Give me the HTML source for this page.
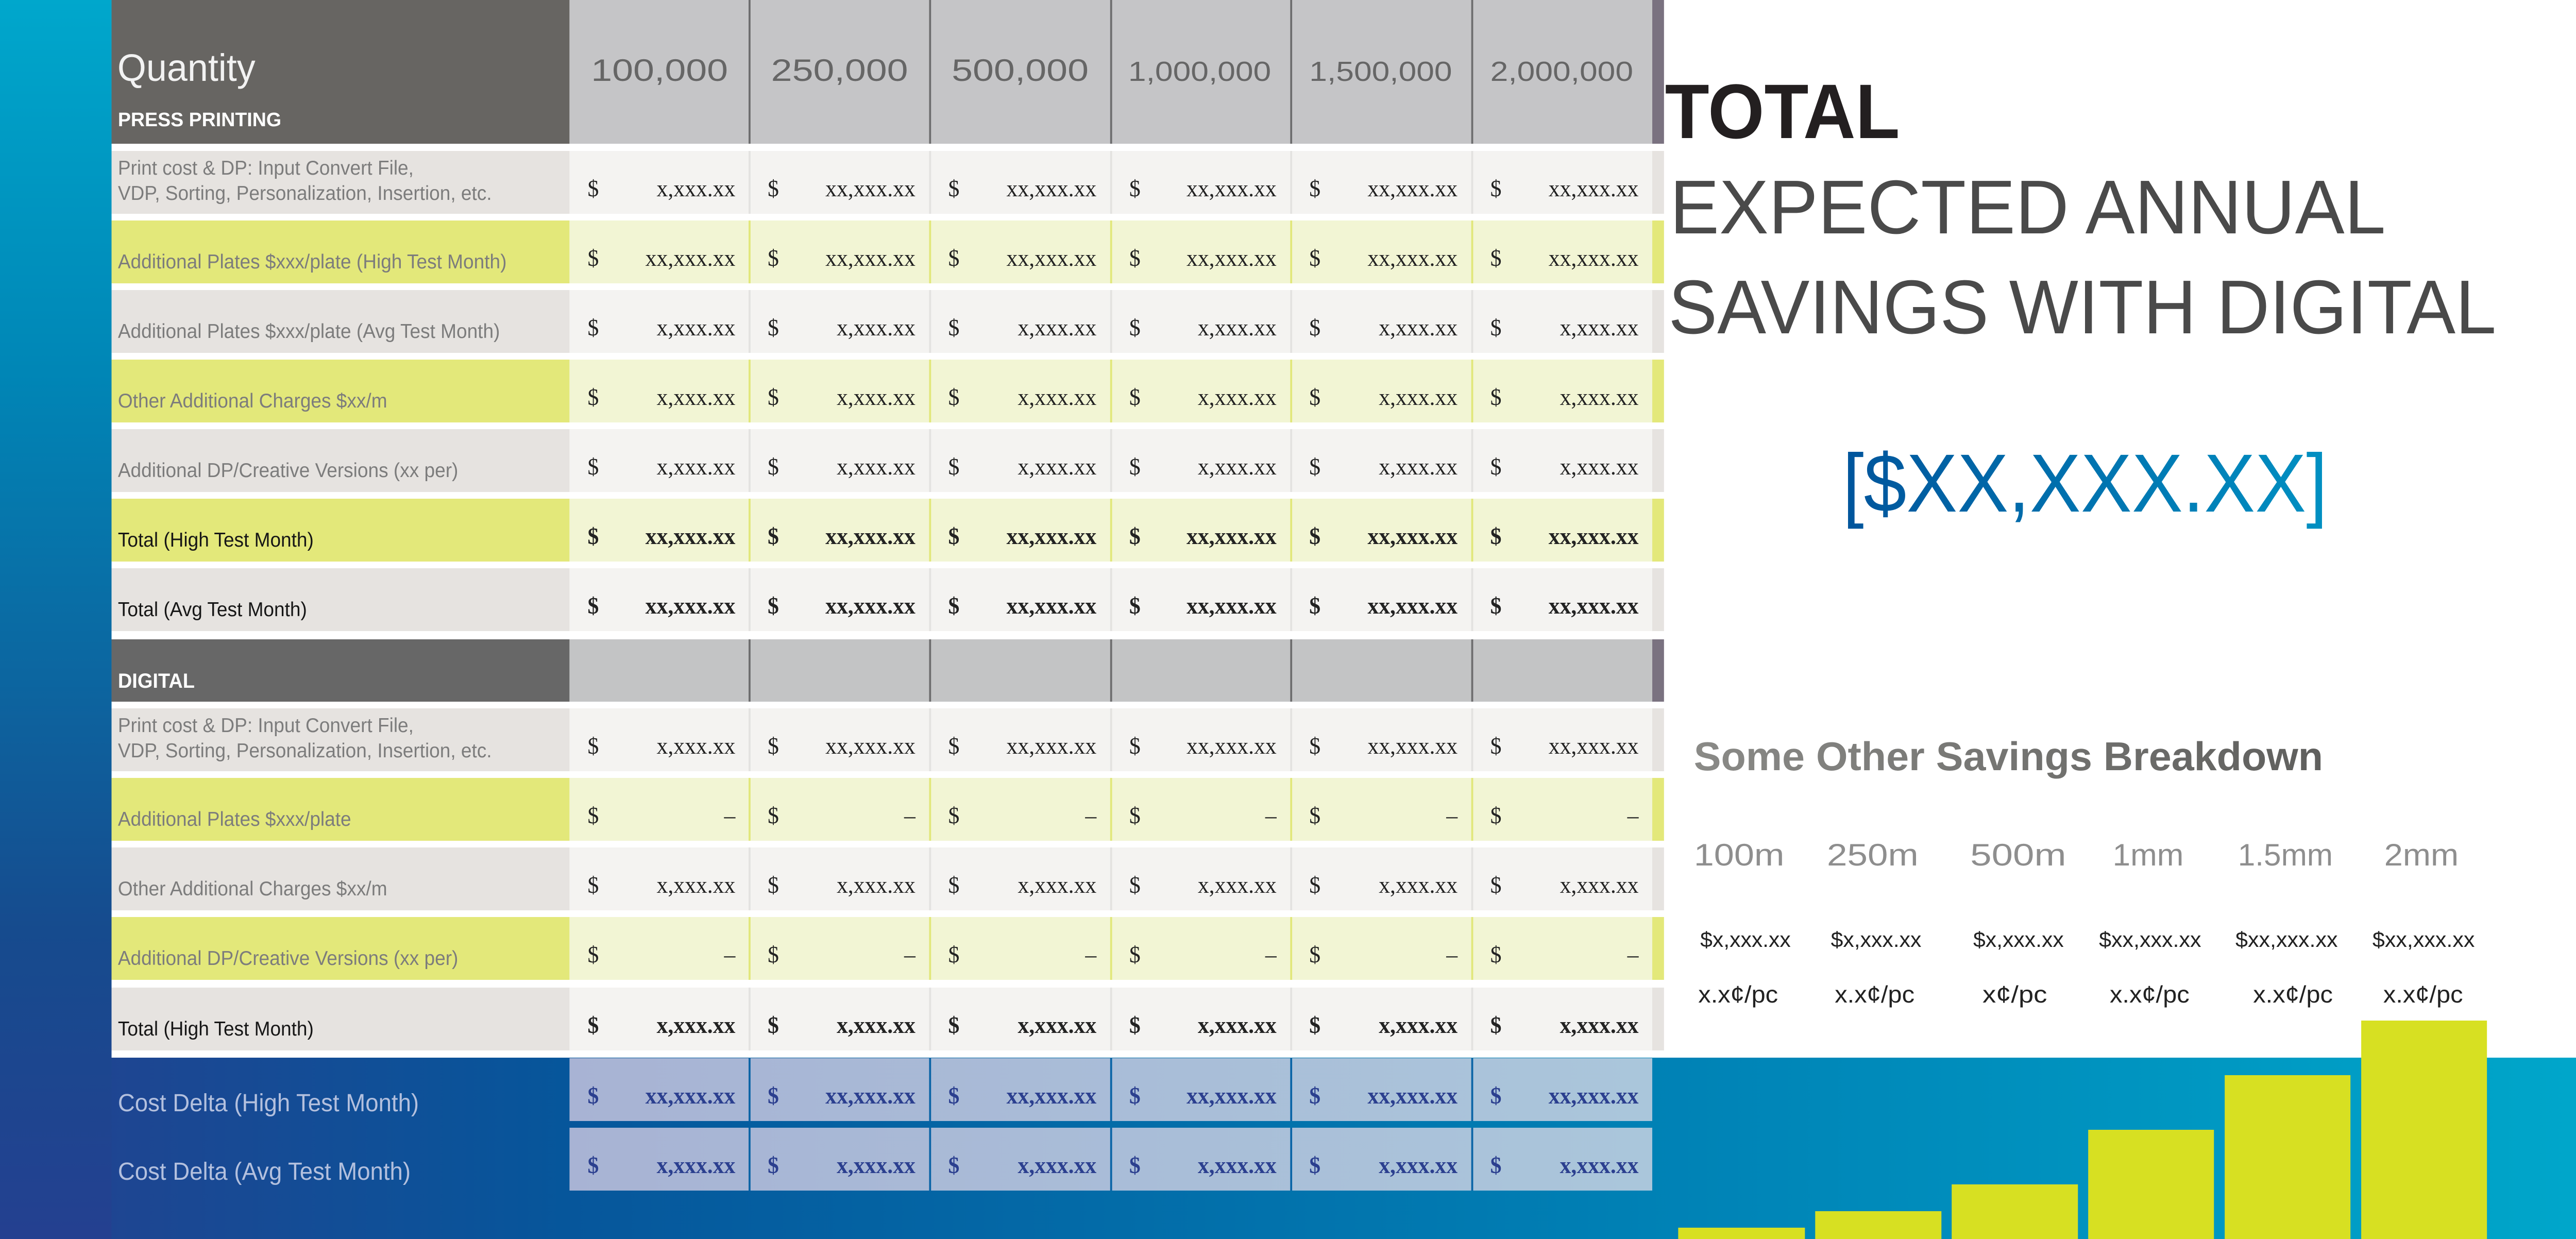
<!DOCTYPE html>
<html><head><meta charset="utf-8"><style>html,body{margin:0;padding:0;width:100%;height:100%;overflow:hidden}svg{display:block;width:100vw;height:100vh}</style></head>
<body>
<svg xmlns="http://www.w3.org/2000/svg" viewBox="0 0 5265 2405" preserveAspectRatio="none">
<defs>
<linearGradient id="bgh" x1="0" y1="0" x2="1" y2="0">
<stop offset="0" stop-color="#24418f"/><stop offset="0.22" stop-color="#06569b"/><stop offset="0.64" stop-color="#0081b5"/><stop offset="1" stop-color="#00a6ca"/></linearGradient>
<linearGradient id="bgv" x1="0" y1="0" x2="0" y2="1">
<stop offset="0" stop-color="#00a7cc"/><stop offset="0.3" stop-color="#0086b6"/><stop offset="0.75" stop-color="#164b8e"/><stop offset="1" stop-color="#244090"/></linearGradient>
<linearGradient id="blue" x1="0" y1="0" x2="1" y2="0"><stop offset="0" stop-color="#00559c"/><stop offset="1" stop-color="#0090c2"/></linearGradient>
<linearGradient id="gry" x1="0" y1="0" x2="1" y2="0"><stop offset="0" stop-color="#8a8a87"/><stop offset="1" stop-color="#5f5f5d"/></linearGradient>
<linearGradient id="dlt" x1="0" y1="0" x2="1" y2="0"><stop offset="0" stop-color="#a8b3d4"/><stop offset="1" stop-color="#aac6db"/></linearGradient>
</defs>
<rect width="5265" height="2405" fill="url(#bgh)"/>
<rect width="228" height="2405" fill="url(#bgv)"/>
<rect x="228" y="0" width="5037" height="2053" fill="#fff"/>

<g font-family="Liberation Sans, sans-serif">
<rect x="228" y="0" width="936" height="279" fill="#676562"/>
<rect x="1164" y="0" width="2213" height="279" fill="#c5c5c7"/>
<rect x="3377" y="0" width="24" height="279" fill="#7a7280"/>
<g fill="#6d6d6e"><rect x="1530" y="0" width="4" height="279"/><rect x="1899" y="0" width="4" height="279"/><rect x="2269" y="0" width="4" height="279"/><rect x="2637" y="0" width="4" height="279"/><rect x="3007" y="0" width="4" height="279"/></g>
<text x="240" y="157" font-size="74" fill="#f2f2f2" textLength="282" lengthAdjust="spacingAndGlyphs">Quantity</text>
<text x="241" y="245" font-size="38" font-weight="bold" fill="#fff" textLength="334" lengthAdjust="spacingAndGlyphs">PRESS PRINTING</text>
<g font-size="60" fill="#666" text-anchor="middle">
<text x="1348" y="157" textLength="280" lengthAdjust="spacingAndGlyphs">100,000</text>
<text x="1716" y="157" textLength="280" lengthAdjust="spacingAndGlyphs">250,000</text>
<text x="2085" y="157" textLength="280" lengthAdjust="spacingAndGlyphs">500,000</text>
<text x="2452" y="157" font-size="54" textLength="292" lengthAdjust="spacingAndGlyphs">1,000,000</text>
<text x="2822" y="157" font-size="54" textLength="292" lengthAdjust="spacingAndGlyphs">1,500,000</text>
<text x="3192" y="157" font-size="54" textLength="292" lengthAdjust="spacingAndGlyphs">2,000,000</text>
</g>
</g>

<g font-family="Liberation Sans, sans-serif">
<g>
<rect x="228" y="293" width="936" height="122" fill="#e6e3e0"/><rect x="1164" y="293" width="2213" height="122" fill="#f4f3f1"/><rect x="3377" y="293" width="24" height="122" fill="#e6e3e0"/>
<rect x="228" y="428" width="936" height="122" fill="#e3e87a"/><rect x="1164" y="428" width="2213" height="122" fill="#f2f5d4"/><rect x="3377" y="428" width="24" height="122" fill="#e3e87a"/>
<rect x="228" y="563" width="936" height="122" fill="#e6e3e0"/><rect x="1164" y="563" width="2213" height="122" fill="#f4f3f1"/><rect x="3377" y="563" width="24" height="122" fill="#e6e3e0"/>
<rect x="228" y="698" width="936" height="122" fill="#e3e87a"/><rect x="1164" y="698" width="2213" height="122" fill="#f2f5d4"/><rect x="3377" y="698" width="24" height="122" fill="#e3e87a"/>
<rect x="228" y="833" width="936" height="122" fill="#e6e3e0"/><rect x="1164" y="833" width="2213" height="122" fill="#f4f3f1"/><rect x="3377" y="833" width="24" height="122" fill="#e6e3e0"/>
<rect x="228" y="968" width="936" height="122" fill="#e3e87a"/><rect x="1164" y="968" width="2213" height="122" fill="#f2f5d4"/><rect x="3377" y="968" width="24" height="122" fill="#e3e87a"/>
<rect x="228" y="1103" width="936" height="122" fill="#e6e3e0"/><rect x="1164" y="1103" width="2213" height="122" fill="#f4f3f1"/><rect x="3377" y="1103" width="24" height="122" fill="#e6e3e0"/>
<rect x="228" y="1241" width="936" height="121" fill="#676767"/><rect x="1164" y="1241" width="2213" height="121" fill="#c3c4c5"/><rect x="3377" y="1241" width="24" height="121" fill="#7a7280"/>
<rect x="228" y="1375" width="936" height="122" fill="#e6e3e0"/><rect x="1164" y="1375" width="2213" height="122" fill="#f4f3f1"/><rect x="3377" y="1375" width="24" height="122" fill="#e6e3e0"/>
<rect x="228" y="1510" width="936" height="122" fill="#e3e87a"/><rect x="1164" y="1510" width="2213" height="122" fill="#f2f5d4"/><rect x="3377" y="1510" width="24" height="122" fill="#e3e87a"/>
<rect x="228" y="1645" width="936" height="122" fill="#e6e3e0"/><rect x="1164" y="1645" width="2213" height="122" fill="#f4f3f1"/><rect x="3377" y="1645" width="24" height="122" fill="#e6e3e0"/>
<rect x="228" y="1780" width="936" height="122" fill="#e3e87a"/><rect x="1164" y="1780" width="2213" height="122" fill="#f2f5d4"/><rect x="3377" y="1780" width="24" height="122" fill="#e3e87a"/>
<rect x="228" y="1917" width="936" height="122" fill="#e6e3e0"/><rect x="1164" y="1917" width="2213" height="122" fill="#f4f3f1"/><rect x="3377" y="1917" width="24" height="122" fill="#e6e3e0"/>
<rect x="1164" y="2054" width="2213" height="122" fill="url(#dlt)"/>
<rect x="1164" y="2189" width="2213" height="122" fill="url(#dlt)"/>
</g>
<g>
<g fill="#e3e2e0">
<rect x="1530" y="293" width="4" height="122"/><rect x="1899" y="293" width="4" height="122"/><rect x="2269" y="293" width="4" height="122"/><rect x="2637" y="293" width="4" height="122"/><rect x="3007" y="293" width="4" height="122"/>
<rect x="1530" y="563" width="4" height="122"/><rect x="1899" y="563" width="4" height="122"/><rect x="2269" y="563" width="4" height="122"/><rect x="2637" y="563" width="4" height="122"/><rect x="3007" y="563" width="4" height="122"/>
<rect x="1530" y="833" width="4" height="122"/><rect x="1899" y="833" width="4" height="122"/><rect x="2269" y="833" width="4" height="122"/><rect x="2637" y="833" width="4" height="122"/><rect x="3007" y="833" width="4" height="122"/>
<rect x="1530" y="1103" width="4" height="122"/><rect x="1899" y="1103" width="4" height="122"/><rect x="2269" y="1103" width="4" height="122"/><rect x="2637" y="1103" width="4" height="122"/><rect x="3007" y="1103" width="4" height="122"/>
<rect x="1530" y="1375" width="4" height="122"/><rect x="1899" y="1375" width="4" height="122"/><rect x="2269" y="1375" width="4" height="122"/><rect x="2637" y="1375" width="4" height="122"/><rect x="3007" y="1375" width="4" height="122"/>
<rect x="1530" y="1645" width="4" height="122"/><rect x="1899" y="1645" width="4" height="122"/><rect x="2269" y="1645" width="4" height="122"/><rect x="2637" y="1645" width="4" height="122"/><rect x="3007" y="1645" width="4" height="122"/>
<rect x="1530" y="1917" width="4" height="122"/><rect x="1899" y="1917" width="4" height="122"/><rect x="2269" y="1917" width="4" height="122"/><rect x="2637" y="1917" width="4" height="122"/><rect x="3007" y="1917" width="4" height="122"/>
</g>
<g fill="#e1e77a">
<rect x="1530" y="428" width="4" height="122"/><rect x="1899" y="428" width="4" height="122"/><rect x="2269" y="428" width="4" height="122"/><rect x="2637" y="428" width="4" height="122"/><rect x="3007" y="428" width="4" height="122"/>
<rect x="1530" y="698" width="4" height="122"/><rect x="1899" y="698" width="4" height="122"/><rect x="2269" y="698" width="4" height="122"/><rect x="2637" y="698" width="4" height="122"/><rect x="3007" y="698" width="4" height="122"/>
<rect x="1530" y="968" width="4" height="122"/><rect x="1899" y="968" width="4" height="122"/><rect x="2269" y="968" width="4" height="122"/><rect x="2637" y="968" width="4" height="122"/><rect x="3007" y="968" width="4" height="122"/>
<rect x="1530" y="1510" width="4" height="122"/><rect x="1899" y="1510" width="4" height="122"/><rect x="2269" y="1510" width="4" height="122"/><rect x="2637" y="1510" width="4" height="122"/><rect x="3007" y="1510" width="4" height="122"/>
<rect x="1530" y="1780" width="4" height="122"/><rect x="1899" y="1780" width="4" height="122"/><rect x="2269" y="1780" width="4" height="122"/><rect x="2637" y="1780" width="4" height="122"/><rect x="3007" y="1780" width="4" height="122"/>
</g>
<g fill="#6d6d6e"><rect x="1530" y="1241" width="4" height="121"/><rect x="1899" y="1241" width="4" height="121"/><rect x="2269" y="1241" width="4" height="121"/><rect x="2637" y="1241" width="4" height="121"/><rect x="3007" y="1241" width="4" height="121"/></g>
<g fill="#0a64a6"><rect x="1530" y="2054" width="4" height="122"/><rect x="1899" y="2054" width="4" height="122"/><rect x="2269" y="2054" width="4" height="122"/><rect x="2637" y="2054" width="4" height="122"/><rect x="3007" y="2054" width="4" height="122"/>
<rect x="1530" y="2189" width="4" height="122"/><rect x="1899" y="2189" width="4" height="122"/><rect x="2269" y="2189" width="4" height="122"/><rect x="2637" y="2189" width="4" height="122"/><rect x="3007" y="2189" width="4" height="122"/></g>
</g>

<g font-size="39" fill="#7c7c7c">
<text x="241" y="339">Print cost &amp; DP: Input Convert File,</text>
<text x="241" y="388">VDP, Sorting, Personalization, Insertion, etc.</text>
<text x="241" y="521">Additional Plates $xxx/plate (High Test Month)</text>
<text x="241" y="656">Additional Plates $xxx/plate (Avg Test Month)</text>
<text x="241" y="791">Other Additional Charges $xx/m</text>
<text x="241" y="926">Additional DP/Creative Versions (xx per)</text>
<text x="241" y="1061" fill="#161616">Total (High Test Month)</text>
<text x="241" y="1196" fill="#161616">Total (Avg Test Month)</text>
<text x="241" y="1335" font-weight="bold" fill="#fff" font-size="40">DIGITAL</text>
<text x="241" y="1421">Print cost &amp; DP: Input Convert File,</text>
<text x="241" y="1470">VDP, Sorting, Personalization, Insertion, etc.</text>
<text x="241" y="1603">Additional Plates $xxx/plate</text>
<text x="241" y="1738">Other Additional Charges $xx/m</text>
<text x="241" y="1873">Additional DP/Creative Versions (xx per)</text>
<text x="241" y="2010" fill="#161616">Total (High Test Month)</text>
<text x="241" y="2157" font-size="48" fill="#b3c0de">Cost Delta (High Test Month)</text>
<text x="241" y="2290" font-size="48" fill="#b3c0de">Cost Delta (Avg Test Month)</text>
</g>
</g>

<g font-family="Liberation Serif, serif" font-size="46">
<g fill="#222">
<text x="1201" y="381">$</text><text x="1569" y="381">$</text><text x="1938" y="381">$</text><text x="2308" y="381">$</text><text x="2676" y="381">$</text><text x="3046" y="381">$</text>
<g text-anchor="end"><text x="1503" y="381">x,xxx.xx</text><text x="1871" y="381">xx,xxx.xx</text><text x="2241" y="381">xx,xxx.xx</text><text x="2609" y="381">xx,xxx.xx</text><text x="2979" y="381">xx,xxx.xx</text><text x="3349" y="381">xx,xxx.xx</text></g>
<text x="1201" y="516">$</text><text x="1569" y="516">$</text><text x="1938" y="516">$</text><text x="2308" y="516">$</text><text x="2676" y="516">$</text><text x="3046" y="516">$</text>
<g text-anchor="end"><text x="1503" y="516">xx,xxx.xx</text><text x="1871" y="516">xx,xxx.xx</text><text x="2241" y="516">xx,xxx.xx</text><text x="2609" y="516">xx,xxx.xx</text><text x="2979" y="516">xx,xxx.xx</text><text x="3349" y="516">xx,xxx.xx</text></g>
<text x="1201" y="651">$</text><text x="1569" y="651">$</text><text x="1938" y="651">$</text><text x="2308" y="651">$</text><text x="2676" y="651">$</text><text x="3046" y="651">$</text>
<g text-anchor="end"><text x="1503" y="651">x,xxx.xx</text><text x="1871" y="651">x,xxx.xx</text><text x="2241" y="651">x,xxx.xx</text><text x="2609" y="651">x,xxx.xx</text><text x="2979" y="651">x,xxx.xx</text><text x="3349" y="651">x,xxx.xx</text></g>
<text x="1201" y="786">$</text><text x="1569" y="786">$</text><text x="1938" y="786">$</text><text x="2308" y="786">$</text><text x="2676" y="786">$</text><text x="3046" y="786">$</text>
<g text-anchor="end"><text x="1503" y="786">x,xxx.xx</text><text x="1871" y="786">x,xxx.xx</text><text x="2241" y="786">x,xxx.xx</text><text x="2609" y="786">x,xxx.xx</text><text x="2979" y="786">x,xxx.xx</text><text x="3349" y="786">x,xxx.xx</text></g>
<text x="1201" y="921">$</text><text x="1569" y="921">$</text><text x="1938" y="921">$</text><text x="2308" y="921">$</text><text x="2676" y="921">$</text><text x="3046" y="921">$</text>
<g text-anchor="end"><text x="1503" y="921">x,xxx.xx</text><text x="1871" y="921">x,xxx.xx</text><text x="2241" y="921">x,xxx.xx</text><text x="2609" y="921">x,xxx.xx</text><text x="2979" y="921">x,xxx.xx</text><text x="3349" y="921">x,xxx.xx</text></g>
<g font-weight="bold">
<text x="1201" y="1056">$</text><text x="1569" y="1056">$</text><text x="1938" y="1056">$</text><text x="2308" y="1056">$</text><text x="2676" y="1056">$</text><text x="3046" y="1056">$</text>
<g text-anchor="end"><text x="1503" y="1056">xx,xxx.xx</text><text x="1871" y="1056">xx,xxx.xx</text><text x="2241" y="1056">xx,xxx.xx</text><text x="2609" y="1056">xx,xxx.xx</text><text x="2979" y="1056">xx,xxx.xx</text><text x="3349" y="1056">xx,xxx.xx</text></g>
<text x="1201" y="1191">$</text><text x="1569" y="1191">$</text><text x="1938" y="1191">$</text><text x="2308" y="1191">$</text><text x="2676" y="1191">$</text><text x="3046" y="1191">$</text>
<g text-anchor="end"><text x="1503" y="1191">xx,xxx.xx</text><text x="1871" y="1191">xx,xxx.xx</text><text x="2241" y="1191">xx,xxx.xx</text><text x="2609" y="1191">xx,xxx.xx</text><text x="2979" y="1191">xx,xxx.xx</text><text x="3349" y="1191">xx,xxx.xx</text></g>
</g>
<text x="1201" y="1463">$</text><text x="1569" y="1463">$</text><text x="1938" y="1463">$</text><text x="2308" y="1463">$</text><text x="2676" y="1463">$</text><text x="3046" y="1463">$</text>
<g text-anchor="end"><text x="1503" y="1463">x,xxx.xx</text><text x="1871" y="1463">xx,xxx.xx</text><text x="2241" y="1463">xx,xxx.xx</text><text x="2609" y="1463">xx,xxx.xx</text><text x="2979" y="1463">xx,xxx.xx</text><text x="3349" y="1463">xx,xxx.xx</text></g>
<text x="1201" y="1598">$</text><text x="1569" y="1598">$</text><text x="1938" y="1598">$</text><text x="2308" y="1598">$</text><text x="2676" y="1598">$</text><text x="3046" y="1598">$</text>
<g text-anchor="end"><text x="1503" y="1598">–</text><text x="1871" y="1598">–</text><text x="2241" y="1598">–</text><text x="2609" y="1598">–</text><text x="2979" y="1598">–</text><text x="3349" y="1598">–</text></g>
<text x="1201" y="1733">$</text><text x="1569" y="1733">$</text><text x="1938" y="1733">$</text><text x="2308" y="1733">$</text><text x="2676" y="1733">$</text><text x="3046" y="1733">$</text>
<g text-anchor="end"><text x="1503" y="1733">x,xxx.xx</text><text x="1871" y="1733">x,xxx.xx</text><text x="2241" y="1733">x,xxx.xx</text><text x="2609" y="1733">x,xxx.xx</text><text x="2979" y="1733">x,xxx.xx</text><text x="3349" y="1733">x,xxx.xx</text></g>
<text x="1201" y="1868">$</text><text x="1569" y="1868">$</text><text x="1938" y="1868">$</text><text x="2308" y="1868">$</text><text x="2676" y="1868">$</text><text x="3046" y="1868">$</text>
<g text-anchor="end"><text x="1503" y="1868">–</text><text x="1871" y="1868">–</text><text x="2241" y="1868">–</text><text x="2609" y="1868">–</text><text x="2979" y="1868">–</text><text x="3349" y="1868">–</text></g>
<g font-weight="bold">
<text x="1201" y="2005">$</text><text x="1569" y="2005">$</text><text x="1938" y="2005">$</text><text x="2308" y="2005">$</text><text x="2676" y="2005">$</text><text x="3046" y="2005">$</text>
<g text-anchor="end"><text x="1503" y="2005">x,xxx.xx</text><text x="1871" y="2005">x,xxx.xx</text><text x="2241" y="2005">x,xxx.xx</text><text x="2609" y="2005">x,xxx.xx</text><text x="2979" y="2005">x,xxx.xx</text><text x="3349" y="2005">x,xxx.xx</text></g>
</g>
</g>
<g fill="#2b3f8f" font-weight="bold">
<text x="1201" y="2142">$</text><text x="1569" y="2142">$</text><text x="1938" y="2142">$</text><text x="2308" y="2142">$</text><text x="2676" y="2142">$</text><text x="3046" y="2142">$</text>
<g text-anchor="end"><text x="1503" y="2142">xx,xxx.xx</text><text x="1871" y="2142">xx,xxx.xx</text><text x="2241" y="2142">xx,xxx.xx</text><text x="2609" y="2142">xx,xxx.xx</text><text x="2979" y="2142">xx,xxx.xx</text><text x="3349" y="2142">xx,xxx.xx</text></g>
<text x="1201" y="2277">$</text><text x="1569" y="2277">$</text><text x="1938" y="2277">$</text><text x="2308" y="2277">$</text><text x="2676" y="2277">$</text><text x="3046" y="2277">$</text>
<g text-anchor="end"><text x="1503" y="2277">x,xxx.xx</text><text x="1871" y="2277">x,xxx.xx</text><text x="2241" y="2277">x,xxx.xx</text><text x="2609" y="2277">x,xxx.xx</text><text x="2979" y="2277">x,xxx.xx</text><text x="3349" y="2277">x,xxx.xx</text></g>
</g>
</g>

<g font-family="Liberation Sans, sans-serif">
<text x="3403" y="268" font-size="150" font-weight="bold" fill="#231f20" textLength="480" lengthAdjust="spacingAndGlyphs">TOTAL</text>
<text x="3413" y="453" font-size="148" fill="#4a4a4a" textLength="1463" lengthAdjust="spacingAndGlyphs">EXPECTED ANNUAL</text>
<text x="3410" y="647" font-size="148" fill="#4a4a4a" textLength="1692" lengthAdjust="spacingAndGlyphs">SAVINGS WITH DIGITAL</text>
<text x="3766" y="993" font-size="160" fill="url(#blue)" textLength="991" lengthAdjust="spacingAndGlyphs">[$XX,XXX.XX]</text>
<text x="3462" y="1495" font-size="78" font-weight="bold" fill="url(#gry)" textLength="1286" lengthAdjust="spacingAndGlyphs">Some Other Savings Breakdown</text>
<g font-size="60" fill="#8e8e8e">
<text x="3462" y="1680" textLength="185" lengthAdjust="spacingAndGlyphs">100m</text>
<text x="3734" y="1680" textLength="187" lengthAdjust="spacingAndGlyphs">250m</text>
<text x="4027" y="1680" textLength="196" lengthAdjust="spacingAndGlyphs">500m</text>
<text x="4318" y="1680" textLength="145" lengthAdjust="spacingAndGlyphs">1mm</text>
<text x="4574" y="1680" textLength="194" lengthAdjust="spacingAndGlyphs">1.5mm</text>
<text x="4873" y="1680" textLength="152" lengthAdjust="spacingAndGlyphs">2mm</text>
</g>
<g font-size="42" fill="#222">
<text x="3475" y="1838" textLength="185" lengthAdjust="spacingAndGlyphs">$x,xxx.xx</text>
<text x="3742" y="1838" textLength="185" lengthAdjust="spacingAndGlyphs">$x,xxx.xx</text>
<text x="4033" y="1838" textLength="185" lengthAdjust="spacingAndGlyphs">$x,xxx.xx</text>
<text x="4290" y="1838" textLength="209" lengthAdjust="spacingAndGlyphs">$xx,xxx.xx</text>
<text x="4569" y="1838" textLength="209" lengthAdjust="spacingAndGlyphs">$xx,xxx.xx</text>
<text x="4849" y="1838" textLength="209" lengthAdjust="spacingAndGlyphs">$xx,xxx.xx</text>
</g>
<g font-size="46" fill="#222">
<text x="3471" y="1946" textLength="163" lengthAdjust="spacingAndGlyphs">x.x¢/pc</text>
<text x="3750" y="1946" textLength="163" lengthAdjust="spacingAndGlyphs">x.x¢/pc</text>
<text x="4052" y="1946" textLength="132" lengthAdjust="spacingAndGlyphs">x¢/pc</text>
<text x="4312" y="1946" textLength="163" lengthAdjust="spacingAndGlyphs">x.x¢/pc</text>
<text x="4605" y="1946" textLength="163" lengthAdjust="spacingAndGlyphs">x.x¢/pc</text>
<text x="4871" y="1946" textLength="163" lengthAdjust="spacingAndGlyphs">x.x¢/pc</text>
</g>
</g>
<g fill="#d7e022">
<rect x="3430" y="2383" width="259" height="22"/>
<rect x="3710" y="2351" width="258" height="54"/>
<rect x="3989" y="2299" width="258" height="106"/>
<rect x="4268" y="2193" width="257" height="212"/>
<rect x="4547" y="2087" width="257" height="318"/>
<rect x="4826" y="1981" width="257" height="424"/>
</g>
</svg>
</body></html>
